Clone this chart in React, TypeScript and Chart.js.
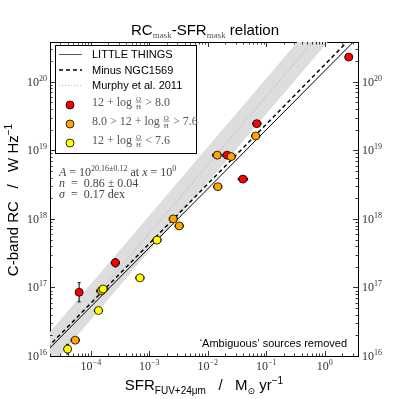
import React, { useEffect, useRef } from 'react';
import { Chart, registerables } from 'chart.js';

Chart.register(...registerables);

// ---------------- data ----------------
const sfrValues = [2.57, 0.069, 0.066, 0.0145, 0.0214, 0.0251, 0.0398, 0.0148, 0.00257, 0.00324, 0.00135, 2.63e-4, 6.9e-4, 6.3e-5, 1.62e-4, 1.51e-4, 1.35e-4, 5.4e-5, 4.0e-5];
const rcValues = [2.29e20, 2.45e19, 1.62e19, 8.5e18, 8.5e18, 8.1e18, 3.8e18, 2.95e18, 1.0e18, 7.9e17, 4.9e17, 2.29e17, 1.38e17, 8.5e16, 9.5e16, 8.9e16, 4.6e16, 1.7e16, 1.26e16];
const metallicity = ['high', 'high', 'mid', 'mid', 'high', 'mid', 'high', 'mid', 'mid', 'mid', 'low', 'high', 'low', 'high', 'low', 'mid', 'low', 'mid', 'low'];
const sfrErrDex = [0.06, 0.07, 0.07, 0.08, 0.07, 0.07, 0.08, 0.07, 0.07, 0.07, 0.07, 0.07, 0.07, 0.06, 0.08, 0.08, 0.07, 0.07, 0.06];
const rcErrDex = [0.03, 0.03, 0.03, 0.03, 0.03, 0.03, 0.03, 0.03, 0.03, 0.03, 0.03, 0.06, 0.03, 0.14, 0.04, 0.03, 0.03, 0.03, 0.07];

const groupKeys = ['high', 'mid', 'low'];
const groupColors = ['#ff0000', '#ffa500', '#ffff00'];

const xTickExps = [-4, -3, -2, -1, 0];
const yTickExps = [16, 17, 18, 19, 20];

const fitLT = { logA: 20.16, n: 0.86 };
const fitNo1569 = { logA: 20.25, n: 0.87 };
const fitMurphy = { logA: 20.79, n: 1.0, band: 0.26 };

const X_MIN = 2.0e-5;
const X_MAX = 3.7;
const Y_MIN = 1e16;
const Y_MAX = 3.8e20;
const lineXs = [1e-6, 100];

// ---------------- helpers ----------------
const SANS = '"Liberation Sans", Arial, sans-serif';
const SERIF = '"Liberation Serif", "DejaVu Serif", serif';

type Part = { t?: string; font: string; dy?: number; color?: string; frac?: [string, string] };

function partWidth(ctx: CanvasRenderingContext2D, p: Part) {
  ctx.font = p.font;
  if (p.frac) return Math.max(ctx.measureText(p.frac[0]).width, ctx.measureText(p.frac[1]).width) + 2;
  return ctx.measureText(p.t || '').width;
}

function drawParts(ctx: CanvasRenderingContext2D, parts: Part[], x: number, y: number, align: string, color: string) {
  const w = parts.reduce((s, p) => s + partWidth(ctx, p), 0);
  let cx = align === 'center' ? x - w / 2 : align === 'right' ? x - w : x;
  ctx.textBaseline = 'alphabetic';
  for (const p of parts) {
    const pw = partWidth(ctx, p);
    ctx.fillStyle = p.color || color;
    ctx.font = p.font;
    if (p.frac) {
      const mid = cx + pw / 2;
      ctx.textAlign = 'center';
      ctx.fillText(p.frac[0], mid, y - 5.5);
      ctx.fillText(p.frac[1], mid, y + 3);
      ctx.fillRect(cx + 0.5, y - 4.3, pw - 1, 0.7);
      ctx.textAlign = 'left';
    } else {
      ctx.textAlign = 'left';
      ctx.fillText(p.t || '', cx, y + (p.dy || 0));
    }
    cx += pw;
  }
}

function supNum(exp: number) {
  return exp < 0 ? '\u2212' + Math.abs(exp) : String(exp);
}

function fitLine(f: { logA: number; n: number }, off: number) {
  return lineXs.map((x) => ({ x, y: Math.pow(10, f.logA + off + f.n * Math.log10(x)) }));
}

const errorBarPlugin = {
  id: 'errorBars',
  beforeDatasetDraw(chart: any, args: any) {
    const ds = chart.data.datasets[args.index];
    if (ds.label !== 'high') return;
    const ctx = chart.ctx;
    const xs = chart.scales.x;
    const ys = chart.scales.y;
    ctx.save();
    ctx.strokeStyle = '#000';
    ctx.lineWidth = 1;
    for (let i = 0; i < sfrValues.length; i++) {
      const px = xs.getPixelForValue(sfrValues[i]);
      const py = ys.getPixelForValue(rcValues[i]);
      const x1 = xs.getPixelForValue(sfrValues[i] * Math.pow(10, -sfrErrDex[i]));
      const x2 = xs.getPixelForValue(sfrValues[i] * Math.pow(10, sfrErrDex[i]));
      const y1 = ys.getPixelForValue(rcValues[i] * Math.pow(10, -rcErrDex[i]));
      const y2 = ys.getPixelForValue(rcValues[i] * Math.pow(10, rcErrDex[i]));
      ctx.beginPath();
      ctx.moveTo(x1, py); ctx.lineTo(x2, py);
      ctx.moveTo(x1, py - 1.5); ctx.lineTo(x1, py + 1.5);
      ctx.moveTo(x2, py - 1.5); ctx.lineTo(x2, py + 1.5);
      ctx.moveTo(px, y1); ctx.lineTo(px, y2);
      ctx.moveTo(px - 1.5, y1); ctx.lineTo(px + 1.5, y1);
      ctx.moveTo(px - 1.5, y2); ctx.lineTo(px + 1.5, y2);
      ctx.stroke();
    }
    ctx.restore();
  },
};

const decorPlugin = {
  id: 'decor',
  afterDraw(chart: any) {
    const ctx: CanvasRenderingContext2D = chart.ctx;
    const xs = chart.scales.x;
    const ys = chart.scales.y;
    const ca = chart.chartArea;
    ctx.save();

    // tick marks (inward, all four sides)
    ctx.strokeStyle = '#000';
    ctx.lineWidth = 0.8;
    ctx.beginPath();
    for (let k = -6; k <= 1; k++) {
      for (let m = 1; m <= 9; m++) {
        const v = m * Math.pow(10, k);
        if (v < X_MIN || v > X_MAX) continue;
        const px = Math.round(xs.getPixelForValue(v)) + 0.5;
        const L = m === 1 ? 5 : 2.5;
        ctx.moveTo(px, ca.bottom); ctx.lineTo(px, ca.bottom - L);
        ctx.moveTo(px, ca.top); ctx.lineTo(px, ca.top + L);
      }
    }
    for (let k = 15; k <= 21; k++) {
      for (let m = 1; m <= 9; m++) {
        const v = m * Math.pow(10, k);
        if (v < Y_MIN || v > Y_MAX) continue;
        const py = Math.round(ys.getPixelForValue(v)) + 0.5;
        const L = m === 1 ? 5 : 2.5;
        ctx.moveTo(ca.left, py); ctx.lineTo(ca.left + L, py);
        ctx.moveTo(ca.right, py); ctx.lineTo(ca.right - L, py);
      }
    }
    ctx.stroke();

    const tickCol = '#333';
    const base = `12px ${SERIF}`;
    const sup = `8px ${SERIF}`;
    // x tick labels
    for (const e of xTickExps) {
      const px = xs.getPixelForValue(Math.pow(10, e));
      drawParts(ctx, [{ t: '10', font: base }, { t: supNum(e), font: sup, dy: -5 }], px, ca.bottom + 14, 'center', tickCol);
    }
    // y tick labels left and right
    for (const e of yTickExps) {
      const py = ys.getPixelForValue(Math.pow(10, e));
      const parts: Part[] = [{ t: '10', font: base }, { t: supNum(e), font: sup, dy: -5 }];
      drawParts(ctx, parts, ca.left - 3, py + 4, 'right', tickCol);
      drawParts(ctx, parts, ca.right + 4, py + 4, 'left', tickCol);
    }

    // title
    const tF = `15px ${SANS}`;
    const tS = `9px ${SERIF}`;
    drawParts(ctx, [
      { t: 'RC', font: tF },
      { t: 'mask', font: tS, dy: 3, color: '#555' },
      { t: '-SFR', font: tF },
      { t: 'mask', font: tS, dy: 3, color: '#555' },
      { t: ' relation', font: tF },
    ], 205, 35, 'center', '#000');

    // axis titles
    const aF = `15px ${SANS}`;
    drawParts(ctx, [
      { t: 'SFR', font: aF },
      { t: 'FUV+24\u03bcm', font: `10px ${SANS}`, dy: 4 },
      { t: '   /   M', font: aF },
      { t: '\u2299', font: `9px "DejaVu Sans", sans-serif`, dy: 4 },
      { t: ' yr', font: aF },
      { t: '\u22121', font: `10px ${SANS}`, dy: -6 },
    ], 204, 390, 'center', '#000');

    ctx.save();
    ctx.translate(18, 200);
    ctx.rotate(-Math.PI / 2);
    drawParts(ctx, [
      { t: 'C-band RC   /   W Hz', font: aF },
      { t: '\u22121', font: `10px ${SANS}`, dy: -6 },
    ], 0, 0, 'center', '#000');
    ctx.restore();

    // legend box
    ctx.fillStyle = '#fff';
    ctx.fillRect(55.5, 45.5, 141, 108);
    ctx.strokeStyle = '#000';
    ctx.lineWidth = 1;
    ctx.strokeRect(55.5, 45.5, 141, 108);
    // line handles
    ctx.beginPath();
    ctx.strokeStyle = '#555';
    ctx.lineWidth = 1;
    ctx.moveTo(59, 54.5); ctx.lineTo(82, 54.5);
    ctx.stroke();
    ctx.beginPath();
    ctx.strokeStyle = '#000';
    ctx.lineWidth = 1.5;
    ctx.setLineDash([4, 3]);
    ctx.moveTo(59, 70); ctx.lineTo(82, 70);
    ctx.stroke();
    ctx.beginPath();
    ctx.strokeStyle = '#bbb';
    ctx.lineWidth = 1;
    ctx.setLineDash([1, 2]);
    ctx.moveTo(59, 85.5); ctx.lineTo(82, 85.5);
    ctx.stroke();
    ctx.setLineDash([]);
    const lF = `11px ${SANS}`;
    drawParts(ctx, [{ t: 'LITTLE THINGS', font: lF }], 92, 58, 'left', '#000');
    drawParts(ctx, [{ t: 'Minus NGC1569', font: lF }], 92, 74, 'left', '#000');
    drawParts(ctx, [{ t: 'Murphy et al. 2011', font: lF }], 92, 89, 'left', '#000');
    // marker handles
    const dotYs = [105, 124, 143];
    for (let g = 0; g < 3; g++) {
      ctx.beginPath();
      ctx.arc(70, dotYs[g], 4, 0, Math.PI * 2);
      ctx.fillStyle = groupColors[g];
      ctx.fill();
      ctx.lineWidth = 0.8;
      ctx.strokeStyle = '#000';
      ctx.stroke();
    }
    const mF = `12px ${SERIF}`;
    const fF = `7px ${SERIF}`;
    const mCol = '#555';
    drawParts(ctx, [{ t: '12 + log ', font: mF }, { frac: ['O', 'H'], font: fF }, { t: ' > 8.0', font: mF }], 92, 106, 'left', mCol);
    drawParts(ctx, [{ t: '8.0 > 12 + log ', font: mF }, { frac: ['O', 'H'], font: fF }, { t: ' > 7.6', font: mF }], 92, 125, 'left', mCol);
    drawParts(ctx, [{ t: '12 + log ', font: mF }, { frac: ['O', 'H'], font: fF }, { t: ' < 7.6', font: mF }], 92, 144, 'left', mCol);

    // fit annotation
    const iF = `italic 12px ${SERIF}`;
    const aCol = '#444';
    drawParts(ctx, [
      { t: 'A', font: iF }, { t: ' = 10', font: mF }, { t: '20.16\u00b10.12', font: `8px ${SERIF}`, dy: -5 },
      { t: ' at ', font: mF }, { t: 'x', font: iF }, { t: ' = 10', font: mF }, { t: '0', font: `8px ${SERIF}`, dy: -5 },
    ], 59, 176, 'left', aCol);
    drawParts(ctx, [{ t: 'n', font: iF }, { t: '  =  0.86 \u00b1 0.04', font: mF }], 59, 187, 'left', aCol);
    drawParts(ctx, [{ t: '\u03c3', font: iF }, { t: '  =  0.17 dex', font: mF }], 59, 198, 'left', aCol);

    // note
    drawParts(ctx, [{ t: '\u2018Ambiguous\u2019 sources removed', font: `11px ${SANS}` }], 347, 347, 'right', '#000');

    ctx.restore();
  },
};

export default function App() {
  const ref = useRef<HTMLCanvasElement | null>(null);
  useEffect(() => {
    if (!ref.current) return;
    const pointSets = groupKeys.map((key, g) => {
      const pts: { x: number; y: number }[] = [];
      for (let i = 0; i < sfrValues.length; i++) {
        if (metallicity[i] === key) pts.push({ x: sfrValues[i], y: rcValues[i] });
      }
      return {
        type: 'scatter' as const,
        label: key,
        data: pts,
        pointRadius: 4,
        pointBorderWidth: 0.8,
        pointBorderColor: '#000',
        pointBackgroundColor: groupColors[g],
        backgroundColor: groupColors[g],
        borderColor: '#000',
        order: 3 - g,
      };
    });
    const axisBase = {
      type: 'logarithmic' as const,
      grid: { display: false, drawTicks: false },
      border: { display: true, color: '#000', width: 1 },
      ticks: { display: false },
    };
    const chart = new Chart(ref.current, {
      type: 'scatter',
      data: {
        datasets: [
          { type: 'line', label: 'bandUpper', data: fitLine(fitMurphy, fitMurphy.band), borderColor: 'transparent', borderWidth: 0, pointRadius: 0, fill: false, order: 20 },
          { type: 'line', label: 'bandLower', data: fitLine(fitMurphy, -fitMurphy.band), borderColor: 'transparent', borderWidth: 0, pointRadius: 0, fill: '-1', backgroundColor: '#dddddd', order: 19 },
          { type: 'line', label: 'murphy', data: fitLine(fitMurphy, 0), borderColor: '#aaaaaa', borderWidth: 1, borderDash: [1, 2], pointRadius: 0, fill: false, order: 18 },
          { type: 'line', label: 'lt', data: fitLine(fitLT, 0), borderColor: '#000', borderWidth: 1, pointRadius: 0, fill: false, order: 17 },
          { type: 'line', label: 'no1569', data: fitLine(fitNo1569, 0), borderColor: '#000', borderWidth: 1.5, borderDash: [4, 3], pointRadius: 0, fill: false, order: 16 },
          ...pointSets,
        ] as any,
      },
      options: {
        animation: false,
        responsive: false,
        events: [],
        layout: { padding: 0 },
        plugins: { legend: { display: false }, title: { display: false }, tooltip: { enabled: false } },
        scales: {
          x: { ...axisBase, position: 'bottom', min: X_MIN, max: X_MAX, afterFit: (s: any) => { s.height = 43; } },
          x2: { ...axisBase, position: 'top', min: X_MIN, max: X_MAX, afterFit: (s: any) => { s.height = 42; } },
          y: { ...axisBase, position: 'left', min: Y_MIN, max: Y_MAX, afterFit: (s: any) => { s.width = 50; } },
          y2: { ...axisBase, position: 'right', min: Y_MIN, max: Y_MAX, afterFit: (s: any) => { s.width = 41; } },
        } as any,
      },
      plugins: [errorBarPlugin, decorPlugin],
    });
    return () => chart.destroy();
  }, []);
  return (
    <div style={{ position: 'fixed', left: 0, top: 0, width: 399, height: 399, background: '#fff' }}>
      <canvas ref={ref} width={399} height={399} style={{ display: 'block' }} />
    </div>
  );
}
